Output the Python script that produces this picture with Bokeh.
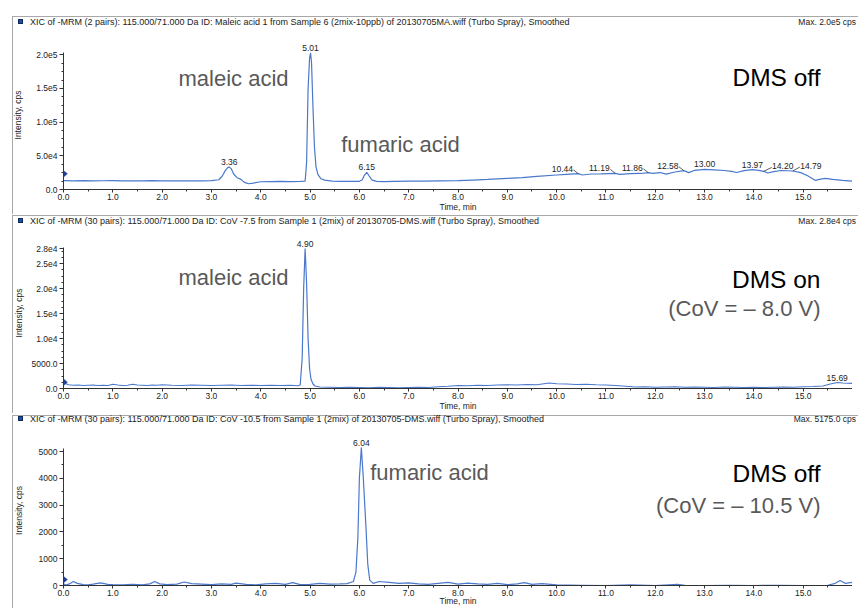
import numpy as np
from bokeh.plotting import figure
from bokeh.layouts import column
from bokeh.models import (ColumnDataSource, FixedTicker, Label, LabelSet,
                          PolyAnnotation, Range1d, Div)
from bokeh.core.properties import value
from bokeh.embed import file_html
from bokeh.resources import INLINE

# ------------------------------------------------------------------ data
# Panel 1 : DMS off, maleic + fumaric acid (time in min, intensity in cps)
time1 = [0.00, 0.20, 0.40, 0.60, 0.80, 1.00, 1.20, 1.40, 1.60, 1.80,
         2.00, 2.20, 2.40, 2.60, 2.80, 3.00, 3.15, 3.22, 3.28, 3.33,
         3.36, 3.40, 3.45, 3.52, 3.60, 3.66, 3.75, 3.85, 4.00, 4.20,
         4.40, 4.60, 4.80, 4.90, 4.93, 4.96, 4.99, 5.01, 5.03, 5.06,
         5.09, 5.12, 5.16, 5.22, 5.30, 5.45, 5.60, 5.80, 6.00, 6.06,
         6.10, 6.15, 6.20, 6.26, 6.35, 6.50, 6.70, 7.00, 7.30, 7.60,
         8.00, 8.30, 8.60, 9.00, 9.30, 9.60, 10.00, 10.20, 10.44, 10.52,
         10.70, 10.90, 11.19, 11.28, 11.50, 11.70, 11.86, 11.95, 12.10, 12.22,
         12.40, 12.58, 12.68, 12.80, 13.00, 13.20, 13.40, 13.55, 13.65, 13.80,
         13.97, 14.10, 14.20, 14.28, 14.40, 14.55, 14.79, 14.95, 15.10, 15.25,
         15.35, 15.45, 15.60, 15.80, 16.00]
int1 = [13200, 12900, 13100, 12800, 13000, 13200, 12800, 13000, 12700, 13100,
        12900, 13000, 12700, 13000, 12800, 13100, 14500, 20000, 28000, 32500,
        33500, 31000, 23000, 17500, 15000, 11000, 8500, 9500, 11500, 11800,
        12000, 11800, 12000, 12500, 40000, 150000, 195000, 203000, 188000, 120000,
        62000, 34000, 22000, 16000, 14000, 12500, 12000, 12000, 12200, 14500,
        21000, 25500, 20000, 14000, 12000, 11800, 12000, 12300, 12500, 12800,
        13100, 14000, 15000, 16500, 17500, 19500, 21500, 22500, 23500, 21500,
        23000, 23300, 24000, 22500, 23500, 23800, 25000, 24000, 25200, 22800,
        26000, 28000, 25000, 28500, 29800, 29200, 28200, 27000, 25300, 28000,
        29500, 28500, 27000, 24500, 26500, 28200, 27500, 25000, 20000, 13500,
        15500, 16500, 15000, 13500, 12500]
peak1_rt = [3.36, 5.01, 6.15, 10.44, 11.19, 11.86, 12.58, 13.00, 13.97, 14.20, 14.79]
peak1_int = [33500, 203000, 25500, 23500, 24000, 25000, 28000, 29800, 29500, 27000, 27500]
peak1_txt = ["3.36", "5.01", "6.15", "10.44", "11.19", "11.86", "12.58", "13.00",
             "13.97", "14.20", "14.79"]

# Panel 2 : DMS on, CoV -8.0 V
time2 = [0.00, 0.05, 0.10, 0.20, 0.30, 0.40, 0.50, 0.60, 0.70, 0.80,
         0.90, 1.00, 1.10, 1.20, 1.30, 1.40, 1.50, 1.60, 1.70, 1.80,
         1.90, 2.00, 2.20, 2.40, 2.60, 2.80, 3.00, 3.20, 3.40, 3.60,
         3.80, 4.00, 4.20, 4.40, 4.60, 4.75, 4.80, 4.84, 4.87, 4.90,
         4.93, 4.96, 4.99, 5.02, 5.06, 5.10, 5.20, 5.40, 5.60, 5.80,
         6.00, 6.20, 6.40, 6.60, 6.80, 7.00, 7.20, 7.40, 7.60, 7.80,
         8.00, 8.20, 8.40, 8.60, 8.80, 9.00, 9.20, 9.40, 9.60, 9.85,
         10.00, 10.20, 10.40, 10.60, 10.80, 11.00, 11.20, 11.40, 11.60, 11.80,
         12.00, 12.20, 12.40, 12.60, 12.80, 13.00, 13.20, 13.40, 13.60, 13.80,
         14.00, 14.20, 14.40, 14.60, 14.80, 15.00, 15.20, 15.40, 15.55, 15.69,
         15.80, 16.00]
int2 = [1200, 950, 750, 650, 700, 600, 650, 700, 600, 650,
        600, 850, 700, 600, 650, 850, 700, 650, 600, 700,
        650, 750, 650, 600, 700, 650, 600, 650, 700, 600,
        650, 600, 650, 600, 650, 550, 700, 6000, 20000, 28000,
        21000, 10000, 4000, 1800, 900, 500, 300, 250, 200, 250,
        200, 150, 250, 200, 150, 200, 250, 200, 350, 450,
        600, 550, 650, 600, 700, 750, 700, 800, 750, 1100,
        950, 900, 800, 850, 750, 700, 600, 450, 300, 350,
        250, 300, 350, 250, 300, 250, 200, 300, 250, 200,
        250, 200, 250, 300, 250, 350, 400, 500, 900, 1200,
        1100, 1000]
peak2_rt = [4.90, 15.69]
peak2_int = [28000, 1200]
peak2_txt = ["4.90", "15.69"]

# Panel 3 : DMS off (CoV -10.5 V), fumaric acid
time3 = [0.00, 0.05, 0.12, 0.20, 0.28, 0.40, 0.50, 0.60, 0.75, 0.90,
         1.00, 1.20, 1.40, 1.60, 1.75, 1.85, 1.95, 2.10, 2.30, 2.45,
         2.60, 2.80, 3.00, 3.20, 3.40, 3.50, 3.70, 3.90, 4.10, 4.30,
         4.50, 4.65, 4.80, 5.00, 5.20, 5.40, 5.60, 5.75, 5.88, 5.93,
         5.97, 6.00, 6.04, 6.08, 6.13, 6.17, 6.21, 6.28, 6.40, 6.60,
         6.80, 7.00, 7.20, 7.40, 7.60, 7.80, 8.00, 8.20, 8.40, 8.60,
         8.80, 9.00, 9.20, 9.35, 9.50, 9.70, 10.00, 10.50, 11.00, 11.50,
         12.00, 12.45, 12.60, 13.00, 13.50, 14.00, 14.50, 15.00, 15.50, 15.65,
         15.75, 15.85, 16.00]
int3 = [60, 20, 60, 150, 80, 30, 20, 50, 100, 40,
        30, 20, 40, 20, 60, 150, 60, 30, 50, 130,
        70, 50, 30, 60, 40, 90, 40, 20, 60, 80,
        40, 110, 30, 40, 80, 50, 60, 70, 150, 500,
        1800, 4000, 5150, 4000, 2300, 800, 200, 80, 150, 120,
        80, 100, 60, 40, 80, 120, 50, 90, 60, 40,
        80, 30, 60, 110, 40, 70, 20, 10, 0, 20,
        0, 40, 10, 0, 10, 0, 10, 0, 10, 80,
        190, 80, 120]
peak3_rt = [6.04]
peak3_int = [5150]
peak3_txt = ["6.04"]

thresholds = [23300, 1270, 220]

x_ticks = list(range(0, 16))
x_tick_labels = ["%d.0" % t for t in x_ticks]
x_minor = [t + 0.5 for t in range(0, 16)]

y1_ticks = [0, 50000, 100000, 150000, 200000]
y1_tick_labels = ["0.0", "5.0e4", "1.0e5", "1.5e5", "2.0e5"]
y2_ticks = [0, 5000, 10000, 15000, 20000, 25000, 28000]
y2_tick_labels = ["0.0", "5000.0", "1.0e4", "1.5e4", "2.0e4", "2.5e4", "2.8e4"]
y3_ticks = [0, 1000, 2000, 3000, 4000, 5000]
y3_tick_labels = ["0", "1000", "2000", "3000", "4000", "5000"]

titles = [
    "XIC of -MRM (2 pairs): 115.000/71.000 Da ID: Maleic acid 1 from Sample 6 (2mix-10ppb) of 20130705MA.wiff (Turbo Spray), Smoothed",
    "XIC of -MRM (30 pairs): 115.000/71.000 Da ID: CoV -7.5 from Sample 1 (2mix) of 20130705-DMS.wiff (Turbo Spray), Smoothed",
    "XIC of -MRM (30 pairs): 115.000/71.000 Da ID: CoV -10.5 from Sample 1 (2mix) of 20130705-DMS.wiff (Turbo Spray), Smoothed",
]
max_texts = ["Max. 2.0e5 cps", "Max. 2.8e4 cps", "Max. 5175.0 cps"]

# ------------------------------------------------------------------ style
FONT = "Liberation Sans"
SMALL = "8.5px"
LINE_BLUE = "#4a78cc"
DARK = "#222222"
GRAY_TXT = "#595959"
BORDER = "#a8a8a8"
W = 852
HDR_W = 858
MBL = 63
FRAME_W = W - MBL
PX_PER_MIN = FRAME_W / 16.0
LEFT_LINE_BG = ("linear-gradient(to right, rgba(255,255,255,0) 0px, rgba(255,255,255,0) 12px, "
                "%s 12px, %s 13.5px, rgba(255,255,255,0) 13.5px, rgba(255,255,255,0) 100%%)"
                % (BORDER, BORDER))

# header (title bar) geometry: height, y of border line, y of text centre
headers = [dict(h=28, line=16, mid=22),
           dict(h=12, line=1, mid=6.5),
           dict(h=11, line=0.5, mid=5)]

# figure geometry: height, min borders, y range end, axis bound, label standoffs
panels = [
    dict(h=186, mbt=12, mbb=22, yend=221250, ybound=204000, ylab_sd=10, xlab_sd=-1,
         t=time1, v=int1, prt=peak1_rt, pint=peak1_int, ptxt=peak1_txt,
         pdx=[0, 0, 0, -16, -16, -16, -16, 0, 0, 19, 18],
         yt=y1_ticks, ytl=y1_tick_labels, yminor=[i * 12500 for i in range(17)]),
    dict(h=187, mbt=11, mbb=25, yend=30200, ybound=28300, ylab_sd=5, xlab_sd=-1,
         t=time2, v=int2, prt=peak2_rt, pint=peak2_int, ptxt=peak2_txt, pdx=[0, 0],
         yt=y2_ticks, ytl=y2_tick_labels, yminor=[i * 1250 for i in range(23)]),
    dict(h=184, mbt=11, mbb=20, yend=5600, ybound=5130, ylab_sd=12, xlab_sd=-3,
         t=time3, v=int3, prt=peak3_rt, pint=peak3_int, ptxt=peak3_txt, pdx=[0],
         yt=y3_ticks, ytl=y3_tick_labels, yminor=[i * 500 for i in range(11)]),
]

# big annotation texts: (panel, text, x px from frame left, y px above frame bottom, align, size, colour)
big_texts = [
    (0, "maleic acid", 170, 111, "center", "22px", GRAY_TXT),
    (0, "fumaric acid", 337, 45, "center", "22px", GRAY_TXT),
    (0, "DMS off", 757, 112, "right", "24.5px", "#000000"),
    (1, "maleic acid", 170, 111, "center", "22px", GRAY_TXT),
    (1, "DMS on", 757, 109, "right", "24.5px", "#000000"),
    (1, "(CoV = \u2013 8.0 V)", 757, 80, "right", "22px", GRAY_TXT),
    (2, "fumaric acid", 366, 113, "center", "22px", GRAY_TXT),
    (2, "DMS off", 757, 112, "right", "24.5px", "#000000"),
    (2, "(CoV = \u2013 10.5 V)", 757, 80, "right", "22px", GRAY_TXT),
]


def make_header(i, cfg):
    line, mid, h = cfg["line"], cfg["mid"], cfg["h"]
    html = (
        '<div style="position:relative;width:%dpx;height:%dpx;overflow:hidden;'
        'font-family:\'Liberation Sans\',Arial,sans-serif;font-size:9px;color:%s;">'
        '<div style="position:absolute;left:12px;right:0;top:%.1fpx;height:0;'
        'border-top:1.5px solid %s;"></div>'
        '<div style="position:absolute;left:12px;top:%.1fpx;bottom:0;width:0;'
        'border-left:1.5px solid %s;"></div>'
        '<div style="position:absolute;left:18px;top:%.1fpx;width:5px;height:5px;'
        'background:#1f4e9a;border:0.5px solid #0d2a5a;"></div>'
        '<div style="position:absolute;left:30px;top:%.1fpx;line-height:10px;'
        'white-space:nowrap;">%s</div>'
        '<div style="position:absolute;right:2px;top:%.1fpx;line-height:10px;'
        'font-size:8.5px;white-space:nowrap;">%s</div>'
        '</div>'
    ) % (HDR_W, h, DARK, line, BORDER, line, BORDER, mid - 3, mid - 5, titles[i],
         mid - 5, max_texts[i])
    return Div(text=html, width=HDR_W, height=h, margin=0)


def make_panel(i, cfg):
    fh = cfg["h"] - cfg["mbt"] - cfg["mbb"]
    p = figure(width=W, height=cfg["h"], x_range=Range1d(0, 16),
               y_range=Range1d(0, cfg["yend"]), output_backend="svg",
               toolbar_location=None, min_border_left=MBL, min_border_right=0,
               min_border_top=cfg["mbt"], min_border_bottom=cfg["mbb"],
               styles={"background": LEFT_LINE_BG})
    p.outline_line_color = None
    p.grid.visible = False
    p.background_fill_color = "white"
    p.border_fill_color = None

    xa = p.xaxis[0]
    xa.ticker = FixedTicker(ticks=x_ticks, minor_ticks=x_minor)
    xa.major_label_overrides = dict(zip(x_ticks, x_tick_labels))
    xa.major_tick_out = 3
    xa.minor_tick_out = 2
    xa.major_label_standoff = 1
    xa.axis_label = "Time, min"
    xa.axis_label_standoff = cfg["xlab_sd"]
    ya = p.yaxis[0]
    ya.ticker = FixedTicker(ticks=cfg["yt"], minor_ticks=cfg["yminor"])
    ya.major_label_overrides = dict(zip(cfg["yt"], cfg["ytl"]))
    ya.bounds = (0, cfg["ybound"])
    ya.major_tick_out = 4
    ya.minor_tick_out = 2
    ya.major_label_standoff = 2
    ya.axis_label = "Intensity, cps"
    ya.axis_label_standoff = cfg["ylab_sd"]
    for ax in (xa, ya):
        ax.axis_line_color = "#333333"
        ax.major_tick_line_color = "#333333"
        ax.minor_tick_line_color = "#333333"
        ax.major_tick_in = 0
        ax.minor_tick_in = 0
        ax.major_label_text_font = FONT
        ax.major_label_text_font_size = SMALL
        ax.major_label_text_color = DARK
        ax.axis_label_text_font = FONT
        ax.axis_label_text_font_size = SMALL
        ax.axis_label_text_font_style = "normal"
        ax.axis_label_text_color = DARK

    # trace
    p.line(cfg["t"], cfg["v"], line_color=LINE_BLUE, line_width=1.2)

    # threshold marker (small dark triangle at the y axis)
    y_per_px = cfg["yend"] / fh
    thr = thresholds[i]
    p.add_layout(PolyAnnotation(xs=[0, 0, 4], ys=[thr - 3.5 * y_per_px, thr + 3.5 * y_per_px, thr],
                                xs_units="screen", ys_units="data",
                                fill_color="#1f3f8f", fill_alpha=1,
                                line_color="#1f3f8f", line_width=1))
    # peak labels
    src = ColumnDataSource(dict(x=cfg["prt"], y=cfg["pint"], text=cfg["ptxt"],
                                dx=cfg["pdx"]))
    p.add_layout(LabelSet(x="x", y="y", text="text", source=src, x_offset="dx",
                          y_offset=2, text_font=value(FONT), text_font_size=value(SMALL),
                          text_color=DARK, text_align="center",
                          text_baseline="bottom"))
    # leader lines for shifted labels
    lx0, ly0, lx1, ly1 = [], [], [], []
    for rt, v, dx in zip(cfg["prt"], cfg["pint"], cfg["pdx"]):
        if dx == 0:
            continue
        end = dx + (11 if dx < 0 else -11)
        lx0.append(rt)
        ly0.append(v)
        lx1.append(rt + end / PX_PER_MIN)
        ly1.append(v + 4 * y_per_px)
    if lx0:
        p.segment(lx0, ly0, lx1, ly1, line_color="#333333", line_width=0.8)

    for (pi, txt, px, py, al, size, col) in big_texts:
        if pi != i:
            continue
        p.add_layout(Label(x=px, y=py, x_units="screen", y_units="screen",
                           text=txt, text_font=FONT, text_font_size=size,
                           text_color=col, text_align=al, text_baseline="middle"))
    return p


items = []
for i in range(3):
    items.append(make_header(i, headers[i]))
    items.append(make_panel(i, panels[i]))
layout = column(*items, spacing=0)
open("out.html", "w").write(file_html(layout, INLINE))
